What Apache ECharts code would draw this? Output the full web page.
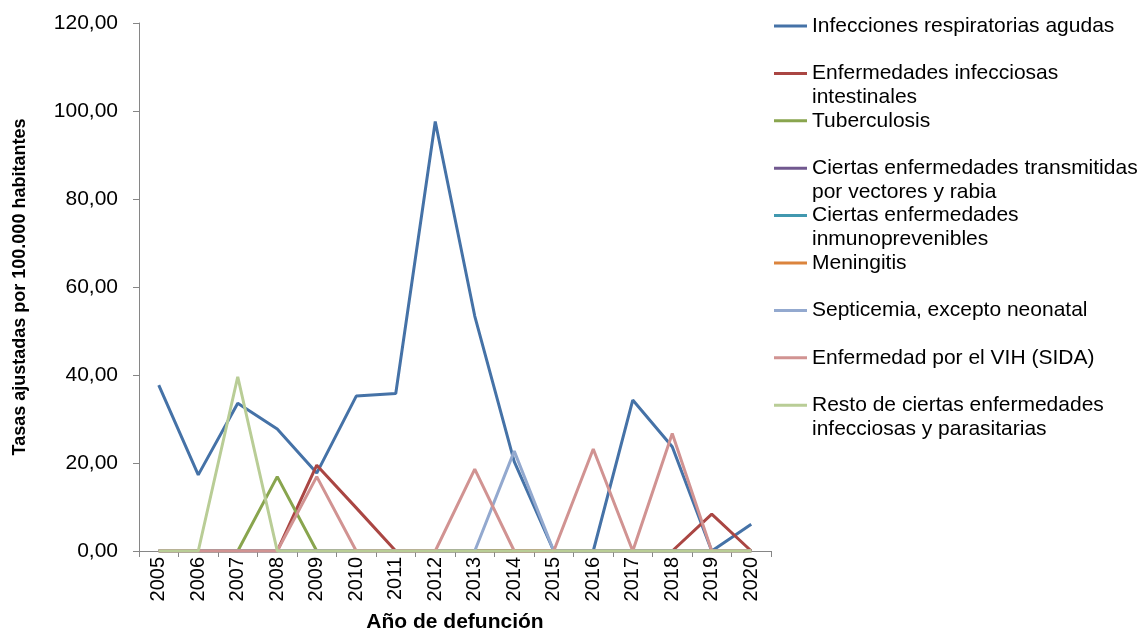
<!DOCTYPE html>
<html>
<head>
<meta charset="utf-8">
<script src="https://cdn.jsdelivr.net/npm/echarts@6/dist/echarts.min.js"></script>
<style>
  html, body { margin: 0; padding: 0; background: #fff; }
  #chart { width: 1143px; height: 631px; }
</style>
</head>
<body>
<div id="chart"></div>
<script>
// Categories and values
const years = ["2005", "2006", "2007", "2008", "2009", "2010", "2011", "2012",
  "2013", "2014", "2015", "2016", "2017", "2018", "2019", "2020"];

const yTicks = [0, 20, 40, 60, 80, 100, 120];

const respiratorias = [37.7, 17.3, 33.6, 27.7, 17.7, 35.2, 35.8, 97.6, 53.4, 20.3, 0, 0, 34.3, 23.7, 0, 6.1];
const intestinales  = [0, 0, 0, 0, 19.5, 9.8, 0, 0, 0, 0, 0, 0, 0, 0, 8.4, 0];
const tuberculosis  = [0, 0, 0, 16.9, 0, 0, 0, 0, 0, 0, 0, 0, 0, 0, 0, 0];
const vectores      = [0, 0, 0, 0, 0, 0, 0, 0, 0, 0, 0, 0, 0, 0, 0, 0];
const inmuno        = [0, 0, 0, 0, 0, 0, 0, 0, 0, 0, 0, 0, 0, 0, 0, 0];
const meningitis    = [0, 0, 0, 0, 0, 0, 0, 0, 0, 0, 0, 0, 0, 0, 0, 0];
const septicemia    = [0, 0, 0, 0, 0, 0, 0, 0, 0, 22.7, 0, 0, 0, 0, 0, 0];
const vih           = [0, 0, 0, 0, 16.9, 0, 0, 0, 18.6, 0, 0, 23.2, 0, 26.7, 0, 0];
const resto         = [0, 0, 39.6, 0, 0, 0, 0, 0, 0, 0, 0, 0, 0, 0, 0, 0];

const seriesNames = [
  "Infecciones respiratorias agudas",
  "Enfermedades infecciosas intestinales",
  "Tuberculosis",
  "Ciertas enfermedades transmitidas por vectores y rabia",
  "Ciertas enfermedades inmunoprevenibles",
  "Meningitis",
  "Septicemia, excepto neonatal",
  "Enfermedad por el VIH (SIDA)",
  "Resto de ciertas enfermedades infecciosas y parasitarias"
];
// legend text as wrapped in the reference (first line / second line)
const legendLabels = [
  ["Infecciones respiratorias agudas"],
  ["Enfermedades infecciosas", "intestinales"],
  ["Tuberculosis"],
  ["Ciertas enfermedades transmitidas", "por vectores y rabia"],
  ["Ciertas enfermedades", "inmunoprevenibles"],
  ["Meningitis"],
  ["Septicemia, excepto neonatal"],
  ["Enfermedad por el VIH (SIDA)"],
  ["Resto de ciertas enfermedades", "infecciosas y parasitarias"]
];
const seriesData = [respiratorias, intestinales, tuberculosis, vectores, inmuno,
  meningitis, septicemia, vih, resto];
const colors = ["#4572A7", "#AA4643", "#89A54E", "#71588F", "#4198AF",
  "#DB843D", "#93A9CF", "#D19392", "#B9CD96"];

const font = "'Liberation Sans', Arial, sans-serif";
const axisColor = "#868686";

// legend layout
const legendLeft = 774;
const legendTop = 14;
const legendStep = 47.4;
const legendLine = 24;
const legendIconW = 33;

const chart = echarts.init(document.getElementById("chart"));

// second lines of the wrapped legend entries
const secondLines = [];
legendLabels.forEach((parts, i) => {
  if (parts.length > 1) {
    secondLines.push({
      type: "text",
      left: legendLeft + legendIconW + 5,
      top: legendTop + i * legendStep + legendLine,
      style: {
        text: parts[1],
        fontFamily: font,
        fontSize: 21,
        lineHeight: legendLine,
        fill: "#000"
      }
    });
  }
});

const option = {
  animation: false,
  backgroundColor: "#ffffff",
  color: colors,
  grid: {
    left: 139,
    right: 372,
    top: 23,
    bottom: 80,
    containLabel: false,
    outerBoundsMode: "none"
  },
  legend: {
    orient: "vertical",
    left: legendLeft,
    top: legendTop,
    padding: 0,
    icon: "rect",
    itemWidth: legendIconW,
    itemHeight: 3,
    itemGap: legendStep - legendLine,
    selectedMode: false,
    data: seriesNames,
    formatter: (name) => legendLabels[seriesNames.indexOf(name)][0],
    textStyle: {
      fontFamily: font,
      fontSize: 21,
      color: "#000",
      lineHeight: legendLine
    }
  },
  graphic: secondLines,
  xAxis: {
    type: "category",
    data: years,
    boundaryGap: true,
    name: "Año de defunción",
    nameLocation: "middle",
    nameGap: 61,
    nameTextStyle: {
      fontFamily: font,
      fontSize: 21,
      fontWeight: "bold",
      color: "#000"
    },
    axisLine: { show: true, lineStyle: { color: axisColor, width: 1 } },
    axisTick: { show: true, alignWithLabel: false, length: 6, lineStyle: { color: axisColor } },
    axisLabel: {
      rotate: 90,
      margin: 6,
      interval: 0,
      fontFamily: font,
      fontSize: 20,
      color: "#000"
    },
    splitLine: { show: false }
  },
  yAxis: {
    type: "value",
    min: yTicks[0],
    max: yTicks[yTicks.length - 1],
    interval: yTicks[1] - yTicks[0],
    name: "Tasas ajustadas por 100.000 habitantes",
    nameLocation: "middle",
    nameGap: 110,
    nameTextStyle: {
      fontFamily: font,
      fontSize: 18,
      fontWeight: "bold",
      color: "#000"
    },
    axisLine: { show: true, lineStyle: { color: axisColor, width: 1 } },
    axisTick: { show: true, length: 6, lineStyle: { color: axisColor } },
    axisLabel: {
      margin: 21,
      fontFamily: font,
      fontSize: 21,
      color: "#000",
      formatter: (v) => v.toFixed(2).replace(".", ",")
    },
    splitLine: { show: false }
  },
  series: seriesNames.map((name, i) => ({
    name: name,
    type: "line",
    data: seriesData[i],
    symbol: "none",
    smooth: false,
    lineStyle: { width: 3, color: colors[i] },
    itemStyle: { color: colors[i] }
  }))
};

chart.setOption(option);
</script>
</body>
</html>
